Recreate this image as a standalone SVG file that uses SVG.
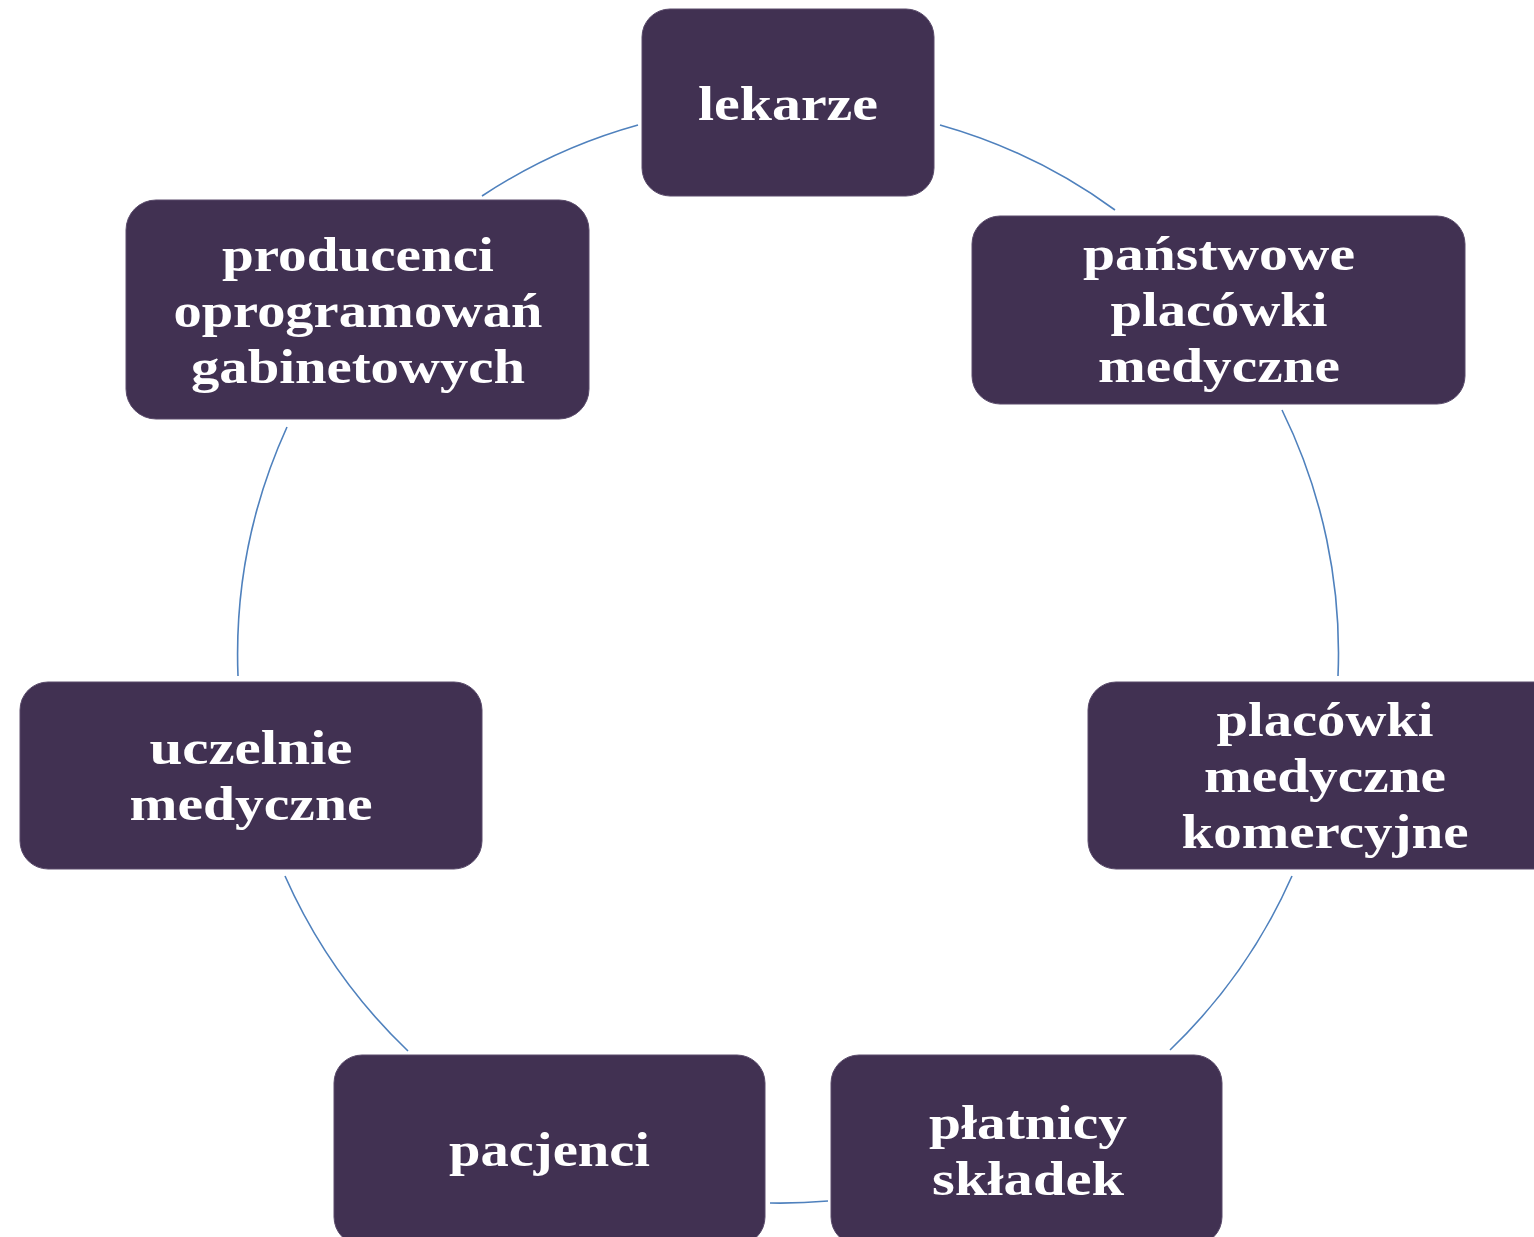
<svg xmlns="http://www.w3.org/2000/svg" width="1534" height="1237" viewBox="0 0 1534 1237">
<style>
.box{fill:#413152;stroke:#5a4b6b;stroke-width:1}
.t{font-family:"Liberation Serif","Times New Roman",serif;font-weight:bold;font-size:49px;fill:#ffffff;text-anchor:middle}
.arc{fill:none;stroke:#4f81bd;stroke-width:1.6}
</style>
<rect width="1534" height="1237" fill="#ffffff"/>
<g id="connectors">
<path class="arc" d="M940,125 A550,550 0 0 1 1115,210"/>
<path class="arc" d="M1282,410 A550,550 0 0 1 1338,676"/>
<path class="arc" d="M1292,876 A550,550 0 0 1 1170,1050"/>
<path class="arc" d="M828,1201 A550,550 0 0 1 770,1203"/>
<path class="arc" d="M408,1051 A550,550 0 0 1 285,876"/>
<path class="arc" d="M238,676 A550,550 0 0 1 287,427"/>
<path class="arc" d="M482,196 A550,550 0 0 1 638,125"/>
</g>
<g id="lekarze">
<rect class="box" x="642" y="9" width="292" height="187" rx="28"/>
<text class="t" x="788" y="120" textLength="180" lengthAdjust="spacingAndGlyphs">lekarze</text>
</g>
<g id="panstwowe">
<rect class="box" x="972" y="216" width="493" height="188" rx="28"/>
<text class="t" x="1219" y="270" textLength="272" lengthAdjust="spacingAndGlyphs">państwowe</text>
<text class="t" x="1219" y="326" textLength="217" lengthAdjust="spacingAndGlyphs">placówki</text>
<text class="t" x="1219" y="382" textLength="242" lengthAdjust="spacingAndGlyphs">medyczne</text>
</g>
<g id="komercyjne">
<rect class="box" x="1088" y="682" width="476" height="187" rx="28"/>
<text class="t" x="1325" y="736" textLength="217" lengthAdjust="spacingAndGlyphs">placówki</text>
<text class="t" x="1325" y="792" textLength="242" lengthAdjust="spacingAndGlyphs">medyczne</text>
<text class="t" x="1325" y="848" textLength="287" lengthAdjust="spacingAndGlyphs">komercyjne</text>
</g>
<g id="platnicy">
<rect class="box" x="831" y="1055" width="391" height="190" rx="28"/>
<text class="t" x="1028" y="1139" textLength="198" lengthAdjust="spacingAndGlyphs">płatnicy</text>
<text class="t" x="1028" y="1195" textLength="192" lengthAdjust="spacingAndGlyphs">składek</text>
</g>
<g id="pacjenci">
<rect class="box" x="334" y="1055" width="431" height="190" rx="28"/>
<text class="t" x="549.5" y="1166" textLength="201" lengthAdjust="spacingAndGlyphs">pacjenci</text>
</g>
<g id="uczelnie">
<rect class="box" x="20" y="682" width="462" height="187" rx="28"/>
<text class="t" x="251" y="764" textLength="203" lengthAdjust="spacingAndGlyphs">uczelnie</text>
<text class="t" x="251" y="820" textLength="243" lengthAdjust="spacingAndGlyphs">medyczne</text>
</g>
<g id="producenci">
<rect class="box" x="126" y="200" width="463" height="219" rx="30"/>
<text class="t" x="358" y="271" textLength="272" lengthAdjust="spacingAndGlyphs">producenci</text>
<text class="t" x="358" y="327" textLength="369" lengthAdjust="spacingAndGlyphs">oprogramowań</text>
<text class="t" x="358" y="383" textLength="334" lengthAdjust="spacingAndGlyphs">gabinetowych</text>
</g>
</svg>
